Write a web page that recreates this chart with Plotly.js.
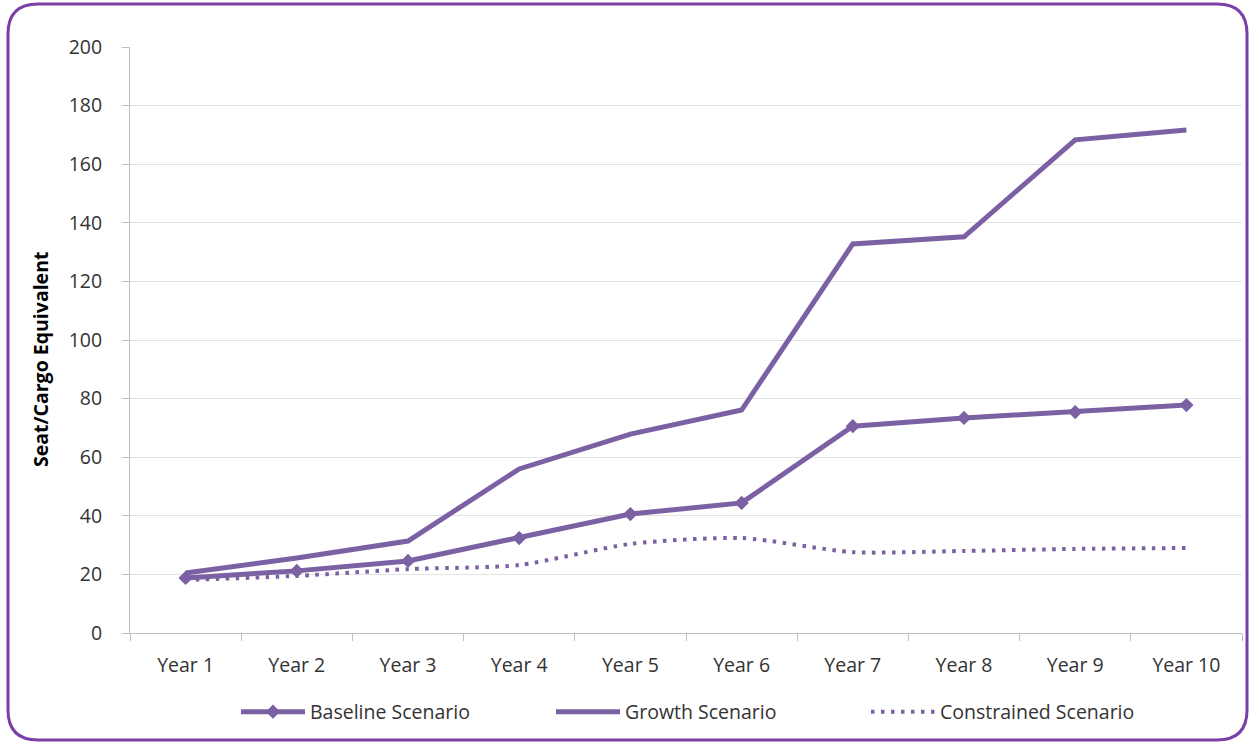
<!DOCTYPE html>
<html>
<head>
<meta charset="utf-8">
<script src="https://cdn.plot.ly/plotly-3.0.1.min.js"></script>
<style>
html,body{margin:0;padding:0;background:#fff;}
#chart{width:1251px;height:742px;}
</style>
</head>
<body>
<div id="chart"></div>
<script>
const categories = ["Year 1","Year 2","Year 3","Year 4","Year 5","Year 6","Year 7","Year 8","Year 9","Year 10"];
const baseline = [18.8, 21.2, 24.6, 32.4, 40.6, 44.4, 70.6, 73.4, 75.4, 77.8];
const growth = [20.5, 25.6, 31.4, 56.0, 67.9, 76.1, 132.8, 135.2, 168.3, 171.7];
const constrained = [18.1, 19.5, 21.8, 23.2, 30.4, 32.4, 27.6, 28.0, 28.7, 29.0];
const seriesNames = ["Baseline Scenario", "Growth Scenario", "Constrained Scenario"];
const yTitle = "Seat/Cargo Equivalent";

const W = 1251, H = 742;
const M = {l: 130, r: 9, t: 47, b: 109, autoexpand: false};
const PW = W - M.l - M.r, PH = H - M.t - M.b;
const purple = "#7b61a3";

function px2x(px){ return (px - M.l) / PW; }
function px2y(py){ return (H - M.b - py) / PH; }
function roundedRect(x0, y0, x1, y1, r){
  const p = (x, y) => px2x(x).toFixed(5) + "," + px2y(y).toFixed(5);
  return "M" + p(x0 + r, y0) +
    " L" + p(x1 - r, y0) + " Q" + p(x1, y0) + " " + p(x1, y0 + r) +
    " L" + p(x1, y1 - r) + " Q" + p(x1, y1) + " " + p(x1 - r, y1) +
    " L" + p(x0 + r, y1) + " Q" + p(x0, y1) + " " + p(x0, y1 - r) +
    " L" + p(x0, y0 + r) + " Q" + p(x0, y0) + " " + p(x0 + r, y0) + " Z";
}

const traces = [
  {x: categories, y: baseline, name: seriesNames[0], type: "scatter", mode: "lines+markers",
   line: {color: purple, width: 5}, marker: {symbol: "diamond", size: 11, color: purple}},
  {x: categories, y: growth, name: seriesNames[1], type: "scatter", mode: "lines",
   line: {color: purple, width: 5}},
  {x: categories, y: constrained, name: seriesNames[2], type: "scatter", mode: "lines",
   line: {color: purple, width: 4, dash: "3.5px,6.5px", shape: "spline", smoothing: 0.7}}
];

const fam = "'Open Sans', 'Noto Sans', sans-serif";
const txt = {family: fam, size: 19.5, color: "#333333"};

const layout = {
  width: W, height: H,
  margin: M,
  paper_bgcolor: "#ffffff", plot_bgcolor: "#ffffff",
  font: txt,
  showlegend: true,
  legend: {
    orientation: "h", x: px2x(236), xanchor: "left", y: px2y(712), yanchor: "middle",
    itemwidth: 64, entrywidth: 236, entrywidthmode: "pixels",
    font: txt, bgcolor: "rgba(0,0,0,0)"
  },
  xaxis: {
    type: "category", range: [-0.5, categories.length - 0.5], autorange: false,
    tickson: "boundaries", ticks: "outside", ticklen: 7, tickcolor: "#bfbfbf",
    showline: true, linecolor: "#bfbfbf", linewidth: 1, showgrid: false, zeroline: false,
    ticklabelstandoff: 15, tickfont: txt, fixedrange: true
  },
  yaxis: {
    range: [0, 200], autorange: false, dtick: 20, tick0: 0, ticks: "outside", ticklen: 7, tickcolor: "#bfbfbf",
    showline: true, linecolor: "#bfbfbf", linewidth: 1, showgrid: true, gridcolor: "#e3e3e3",
    gridwidth: 1, zeroline: false, ticklabelstandoff: 16, tickfont: txt, fixedrange: true
  },
  annotations: [{
    text: "<b>" + yTitle + "</b>", xref: "paper", yref: "paper",
    x: px2x(40), y: px2y(360), xanchor: "center", yanchor: "middle", textangle: -90,
    showarrow: false, font: {family: fam, size: 19.5, color: "#000000"}
  }],
  shapes: [{
    type: "path", xref: "paper", yref: "paper",
    path: roundedRect(8, 4, 1247, 740, 30),
    line: {color: "#7a3fa6", width: 3}, fillcolor: "rgba(0,0,0,0)", layer: "above"
  }]
};

Plotly.newPlot("chart", traces, layout, {displayModeBar: false, staticPlot: true});
</script>
</body>
</html>
